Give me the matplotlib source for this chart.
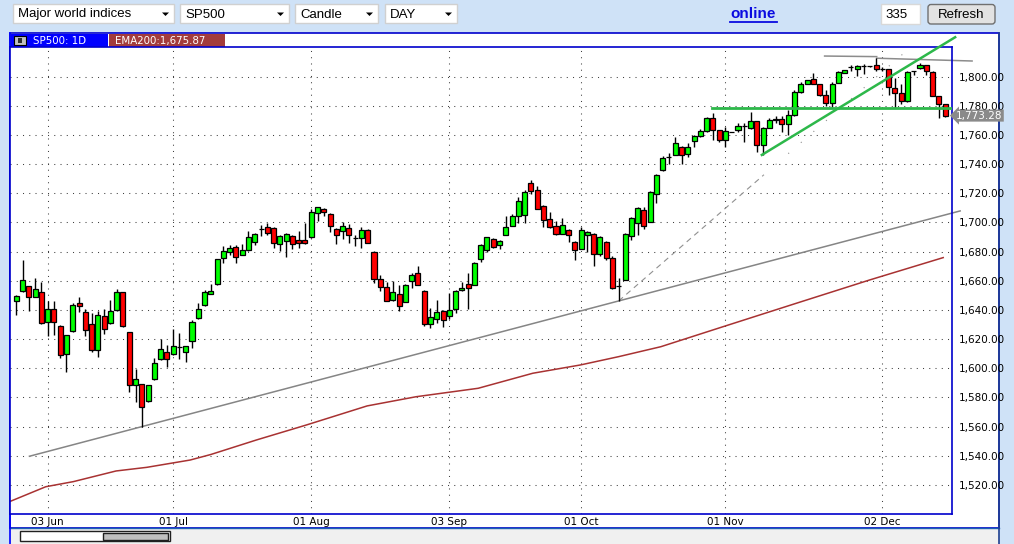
import matplotlib
matplotlib.use("Agg")
import matplotlib.pyplot as plt
import matplotlib.transforms as mtransforms
from matplotlib.patches import Rectangle, FancyBboxPatch, Polygon

# ---- data (candle index, OHLC) ----
opens = [1646.4, 1652.8, 1656.2, 1649.1, 1652.1, 1631.5, 1640.5, 1628.8, 1609.6, 1625.4,
         1644.6, 1638.6, 1630.2, 1612.3, 1635.7, 1630.9, 1639.8, 1652.1, 1624.7, 1588.3,
         1589.0, 1577.4, 1592.5, 1606.2, 1611.0, 1609.6, 1614.4, 1611.4, 1618.5, 1634.3,
         1643.2, 1651.2, 1657.6, 1675.4, 1679.5, 1683.0, 1677.9, 1681.4, 1686.9, 1695.4,
         1697.2, 1696.5, 1685.5, 1687.4, 1691.0, 1688.3, 1688.3, 1689.7, 1706.8, 1709.1,
         1706.1, 1695.8, 1693.8, 1696.5, 1689.4, 1689.4, 1694.5, 1680.0, 1661.5, 1656.0,
         1647.1, 1651.2, 1645.7, 1660.1, 1665.0, 1653.3, 1630.4, 1634.0, 1639.5, 1636.1,
         1640.9, 1654.0, 1658.1, 1657.4, 1674.6, 1681.4, 1688.9, 1684.8, 1691.6, 1697.8,
         1704.7, 1705.3, 1727.3, 1722.5, 1711.5, 1702.6, 1697.8, 1692.3, 1695.1, 1686.8,
         1682.1, 1691.6, 1692.3, 1678.6, 1686.8, 1675.9, 1656.5, 1660.8, 1691.0, 1699.9,
         1708.8, 1700.5, 1719.7, 1736.2, 1744.8, 1746.4, 1751.9, 1747.1, 1756.0, 1759.3,
         1762.5, 1771.8, 1763.2, 1756.8, 1762.0, 1763.2, 1765.9, 1765.0, 1769.3, 1753.4,
         1765.0, 1770.5, 1771.1, 1767.7, 1773.4, 1789.3, 1795.0, 1798.4, 1795.0, 1787.5,
         1782.0, 1795.7, 1802.5, 1806.4, 1805.2, 1807.0, 1807.0, 1808.2, 1805.2, 1805.0,
         1792.5, 1788.6, 1783.0, 1803.9, 1805.7, 1808.0, 1803.4, 1786.8, 1781.1]
highs = [1650.3, 1674.3, 1656.5, 1661.7, 1659.2, 1646.4, 1646.4, 1629.7, 1622.8, 1644.6,
         1648.9, 1640.5, 1637.9, 1639.3, 1640.5, 1646.6, 1654.4, 1652.3, 1624.9, 1599.5,
         1589.2, 1588.5, 1606.9, 1620.1, 1616.0, 1626.7, 1624.0, 1615.3, 1632.9, 1644.6,
         1653.9, 1657.8, 1675.2, 1684.1, 1684.6, 1684.6, 1685.3, 1694.0, 1692.6, 1698.1,
         1699.5, 1696.7, 1691.7, 1692.6, 1691.2, 1694.0, 1699.5, 1709.1, 1710.5, 1709.8,
         1706.3, 1696.0, 1700.6, 1698.8, 1691.7, 1697.2, 1695.8, 1680.2, 1664.3, 1659.5,
         1659.9, 1657.4, 1657.6, 1665.6, 1670.0, 1653.5, 1641.6, 1647.1, 1640.2, 1651.9,
         1653.5, 1659.5, 1665.6, 1673.2, 1684.9, 1690.0, 1689.6, 1688.2, 1704.7, 1706.0,
         1717.7, 1722.5, 1729.3, 1725.2, 1711.7, 1707.4, 1701.2, 1703.3, 1695.3, 1687.0,
         1697.1, 1693.9, 1692.5, 1691.0, 1687.0, 1677.3, 1662.2, 1692.5, 1703.5, 1710.8,
         1710.8, 1721.8, 1733.4, 1745.8, 1747.8, 1758.8, 1752.1, 1754.7, 1759.7, 1764.3,
         1772.0, 1775.2, 1763.4, 1765.5, 1762.3, 1768.2, 1768.2, 1775.7, 1769.5, 1765.2,
         1771.8, 1772.7, 1772.7, 1776.8, 1790.5, 1796.1, 1797.9, 1802.3, 1795.2, 1790.5,
         1796.1, 1803.6, 1804.7, 1808.2, 1807.7, 1808.6, 1807.5, 1812.7, 1806.4, 1805.2,
         1798.9, 1794.8, 1803.6, 1804.1, 1809.5, 1808.2, 1803.6, 1787.0, 1781.3]
lows = [1636.6, 1652.0, 1639.5, 1648.7, 1630.5, 1622.4, 1622.9, 1606.9, 1597.7, 1625.2,
        1638.9, 1622.4, 1611.0, 1608.0, 1623.5, 1630.7, 1639.6, 1628.6, 1584.0, 1577.1,
        1560.0, 1577.2, 1592.3, 1606.0, 1601.1, 1609.4, 1606.6, 1604.6, 1614.2, 1634.1,
        1643.0, 1651.0, 1657.4, 1672.0, 1677.7, 1672.0, 1677.7, 1680.5, 1684.4, 1690.8,
        1691.3, 1682.6, 1680.5, 1676.4, 1681.6, 1682.6, 1685.5, 1689.5, 1700.9, 1704.1,
        1693.5, 1685.5, 1688.5, 1686.0, 1683.9, 1682.8, 1686.0, 1658.8, 1653.3, 1646.2,
        1646.4, 1639.5, 1645.5, 1655.3, 1657.2, 1629.0, 1627.6, 1631.3, 1628.3, 1634.0,
        1638.2, 1653.3, 1640.9, 1657.2, 1673.2, 1679.4, 1682.7, 1682.1, 1691.4, 1697.6,
        1699.9, 1699.9, 1719.7, 1709.3, 1697.1, 1696.4, 1691.6, 1692.1, 1686.8, 1674.5,
        1681.9, 1680.0, 1670.4, 1677.3, 1674.5, 1654.4, 1646.2, 1660.6, 1688.2, 1691.6,
        1695.8, 1700.3, 1713.6, 1735.5, 1740.3, 1746.2, 1740.3, 1745.1, 1751.9, 1758.6,
        1762.3, 1756.8, 1755.2, 1751.8, 1761.8, 1762.0, 1755.2, 1764.3, 1748.4, 1746.1,
        1764.8, 1768.2, 1762.0, 1760.2, 1773.2, 1788.6, 1794.8, 1794.8, 1786.6, 1780.0,
        1779.5, 1795.5, 1802.3, 1804.1, 1800.7, 1801.8, 1806.5, 1804.1, 1804.1, 1787.3,
        1778.2, 1781.1, 1782.3, 1800.9, 1805.5, 1801.1, 1786.6, 1771.4, 1772.5]
closes = [1649.6, 1660.3, 1648.7, 1654.2, 1630.9, 1640.5, 1631.5, 1608.9, 1622.6, 1643.2,
          1642.5, 1626.1, 1612.3, 1636.3, 1626.7, 1639.3, 1652.1, 1628.8, 1588.3, 1592.5,
          1573.3, 1588.3, 1603.4, 1613.0, 1606.2, 1615.1, 1614.5, 1615.1, 1631.8, 1640.5,
          1652.1, 1653.0, 1675.0, 1680.2, 1682.3, 1676.1, 1681.1, 1689.7, 1692.4, 1695.8,
          1692.9, 1686.0, 1691.0, 1692.4, 1685.5, 1686.2, 1686.2, 1707.5, 1710.3, 1707.5,
          1697.9, 1691.7, 1697.9, 1691.7, 1689.2, 1694.5, 1686.2, 1661.5, 1656.0, 1646.4,
          1652.6, 1643.0, 1657.4, 1664.3, 1657.4, 1630.4, 1635.4, 1638.9, 1633.4, 1640.2,
          1653.3, 1655.3, 1655.3, 1672.5, 1684.2, 1689.7, 1683.4, 1687.5, 1697.1, 1704.7,
          1714.9, 1721.1, 1721.8, 1709.5, 1701.9, 1697.1, 1692.3, 1698.5, 1691.6, 1681.4,
          1695.1, 1693.7, 1678.6, 1690.3, 1675.9, 1655.1, 1656.7, 1692.3, 1703.3, 1710.1,
          1697.8, 1721.1, 1732.7, 1744.4, 1745.0, 1754.7, 1746.4, 1751.9, 1759.5, 1762.5,
          1771.8, 1763.2, 1756.8, 1762.5, 1762.1, 1765.9, 1766.0, 1769.3, 1753.4, 1765.0,
          1770.5, 1770.7, 1767.7, 1773.4, 1789.3, 1795.0, 1797.7, 1795.0, 1787.5, 1782.0,
          1795.0, 1803.0, 1804.5, 1806.6, 1807.5, 1807.0, 1807.1, 1805.2, 1805.0, 1793.2,
          1788.6, 1783.4, 1803.4, 1804.0, 1808.0, 1803.9, 1786.8, 1781.1, 1773.28]

# EMA200 read at sample candle positions
ema_idx = [-1.0, 4.7, 9.1, 15.9, 20.8, 27.7, 31.0, 38.3, 46.2, 55.9, 63.7, 73.6,
           82.3, 89.9, 96.0, 102.7, 112.6, 124.3, 136.0, 147.7]
ema_val = [1508.7, 1518.8, 1522.3, 1529.6, 1532.1, 1537.1, 1540.9, 1550.9, 1561.1, 1574.2,
           1580.5, 1586.3, 1596.6, 1602.3, 1608.0, 1614.8, 1628.5, 1644.6, 1660.6, 1675.9]

# hand-drawn lines on the chart (candle index, price)
trend_x, trend_y = [2.1, 150.4], [1539.7, 1707.9]
dash_x, dash_y = [96, 119], [1646.2, 1732.2]
dot_x, dot_y = [119, 142.5], [1732.2, 1820.1]
chan_x, chan_y = [118.8, 149.6], [1746.3, 1827.0]
support_x, support_y = [110.9, 149.1], [1778.3, 1778.3]
top1_x, top1_y = [128.8, 137.1], [1814.1, 1813.7]
top2_x, top2_y = [137.1, 152.3], [1812.6, 1810.7]

date_idx = [5, 25, 47, 69, 90, 113, 138]
date_labels = ["03 Jun", "01 Jul", "01 Aug", "03 Sep", "01 Oct", "01 Nov", "02 Dec"]
price_ticks = list(range(1520, 1801, 20))

menus = ["Major world indices", "SP500", "Candle", "DAY"]
menu_x = [(13, 174), (180, 289), (295, 378), (385, 457)]

W, H = 1014, 544
fig = plt.figure(figsize=(W / 100, H / 100), dpi=100)
fig.patch.set_facecolor('#cfe2f7')

# pixel-space background axes for the UI chrome
bg = fig.add_axes([0, 0, 1, 1])
bg.set_xlim(0, W)
bg.set_ylim(H, 0)
bg.axis('off')


def box(x0, y0, x1, y1, fc, ec='none', lw=1.0, z=1):
    bg.add_patch(Rectangle((x0, y0), x1 - x0, y1 - y0, facecolor=fc,
                           edgecolor=ec, linewidth=lw, zorder=z))


# toolbar
for label, (x0, x1) in zip(menus, menu_x):
    box(x0, 4, x1, 23, 'white', '#d0d0d0')
    bg.text(x0 + 5, 14.5, label, ha='left', va='center', fontsize=9.5,
            family='Liberation Sans', zorder=3)
    bg.add_patch(Polygon([[x1 - 12, 12.5], [x1 - 5, 12.5], [x1 - 8.5, 16]],
                         closed=True, facecolor='black', zorder=3))

bg.text(753, 14, 'online', ha='center', va='center', fontsize=11, fontweight='bold',
        color='#0a0ae0', family='Liberation Sans')
bg.plot([730, 777], [21.5, 21.5], color='#0a0ae0', lw=1.3)

box(881, 3.5, 920, 24, 'white', '#d8d8d8')
bg.text(885, 14.5, '335', ha='left', va='center', fontsize=9.5, family='Liberation Sans')
bg.add_patch(FancyBboxPatch((928, 4.5), 67, 19.5, boxstyle='round,pad=0,rounding_size=3',
                            facecolor='#e2e2e2', edgecolor='#707070', lw=1))
bg.text(961.5, 14.5, 'Refresh', ha='center', va='center', fontsize=9.5, family='Liberation Sans')

# chart panel
box(10, 33, 999, 528, 'white', '#0000cc', lw=1.2)
box(11, 34, 108, 47, '#0000ff')
box(13.5, 36, 26, 45, '#c0c0c0', 'black', lw=0.8, z=2)
box(17.5, 38, 21.5, 43, '#303030', z=3)
bg.text(33, 41, 'SP500: 1D', ha='left', va='center', fontsize=7.4, color='white')
box(109, 34, 225, 47, '#a33c3c')
bg.text(115, 41, 'EMA200:1,675.87', ha='left', va='center', fontsize=7.4, color='white')

# scroll strip
box(10.5, 528.5, 999, 544, '#f0f0f0')
bg.plot([10, 999], [528, 528], color='#1a5fb4', lw=1)
box(20, 530.5, 170, 541, 'white', '#202020', lw=1)
box(103, 532.5, 168, 539.5, '#c0c0c0', '#202020', lw=1)
bg.plot([999, 999], [33, 544], color='#1f3f8f', lw=1.2)
bg.plot([10, 10], [33, 544], color='#0000ff', lw=1.2)

# main chart axes
ax = fig.add_axes([10 / W, (H - 514) / H, 942 / W, 467 / H], zorder=2)
ax.set_facecolor('white')
ax.set_xlim(-1.0, 149.1)
ax.set_ylim(1500.1, 1820.3)
for s in ax.spines.values():
    s.set_color('#0000cc')
    s.set_linewidth(1.2)

for v in price_ticks:
    ax.axhline(v, color='#404040', lw=0.75, ls=(0, (1, 5)), zorder=1)
for d in date_idx:
    ax.axvline(d, color='#404040', lw=0.75, ls=(0, (1, 5)), zorder=1)

# EMA and drawn lines
ax.plot(ema_idx, ema_val, color='#a83232', lw=1.1, zorder=2)
ax.plot(trend_x, trend_y, color='#858585', lw=1.1, zorder=2, clip_on=False)
ax.plot(dash_x, dash_y, color='#909090', lw=0.8, ls=(0, (5, 4)), zorder=2)
ax.plot(dot_x, dot_y, color='#909090', lw=0.8, ls=(0, (1, 14)), zorder=2)
ax.plot(top1_x, top1_y, color='#8c8c8c', lw=1.1, zorder=2, clip_on=False)
ax.plot(top2_x, top2_y, color='#8c8c8c', lw=1.1, zorder=2, clip_on=False)

# candles
idx = list(range(len(closes)))
bottoms = [min(o, c) for o, c in zip(opens, closes)]
heights = [max(abs(c - o), 0.05) for o, c in zip(opens, closes)]
colors = ['#00ff00' if c >= o else '#ff0000' for o, c in zip(opens, closes)]
ax.vlines(idx, lows, highs, color='black', lw=1.0, zorder=3)
ax.bar(idx, heights, bottom=bottoms, width=0.8, color=colors, edgecolor='black',
       linewidth=0.9, zorder=4)

ax.plot(support_x, support_y, color='#2db84a', lw=2, zorder=5)
ax.plot(chan_x, chan_y, color='#2db84a', lw=1.8, zorder=5, clip_on=False)

# axes labels
ax.yaxis.tick_right()
ax.set_yticks(price_ticks)
ax.set_yticklabels([f"{v:,.2f}" for v in price_ticks])
ax.tick_params(axis='y', length=0, pad=5, labelsize=7.5, labelcolor='black')
ax.set_xticks(date_idx)
ax.set_xticklabels(date_labels)
ax.tick_params(axis='x', length=0, pad=2.5, labelsize=7.5, labelcolor='black')

# last price tag
tr = mtransforms.blended_transform_factory(ax.transAxes, ax.transData)
ax.text(1.0045, closes[-1], f"{closes[-1]:,.2f}", transform=tr, ha='left', va='center',
        fontsize=7.5, color='white', clip_on=False, zorder=6,
        bbox=dict(boxstyle='larrow,pad=0.1', facecolor='#8a8a8a', edgecolor='none'))

fig.savefig('out.png', dpi=100, facecolor=fig.get_facecolor())
